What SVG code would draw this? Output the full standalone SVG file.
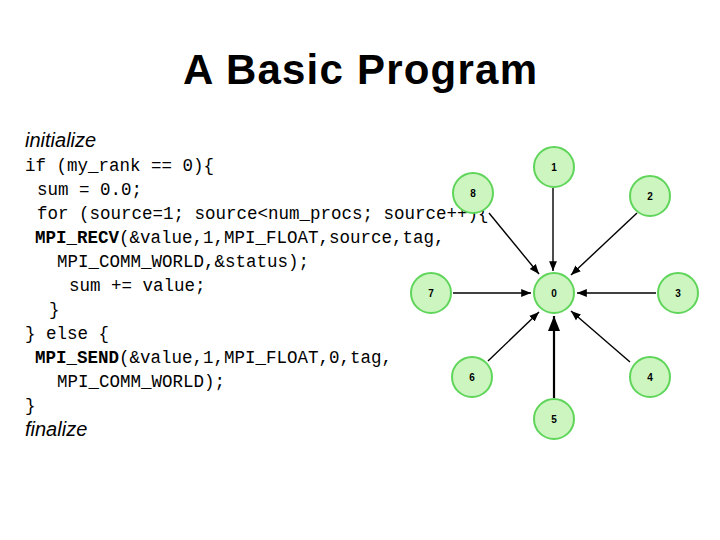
<svg xmlns="http://www.w3.org/2000/svg" width="720" height="540" viewBox="0 0 720 540">
<defs>
<marker id="ah" viewBox="0 0 10 10" refX="10" refY="5" markerWidth="7" markerHeight="7" orient="auto"><path d="M0,1 L10,5 L0,9 z" fill="#000"/></marker>
</defs>
<style>
.m{font-family:"Liberation Mono",monospace;font-size:17.5px;fill:#000}
.b{font-weight:bold}
.i{font-family:"Liberation Sans",Arial,sans-serif;font-style:italic;font-size:20px}
.n circle{fill:#ccf5c0;stroke:#5fd55a;stroke-width:2}
.n text{font-family:"Liberation Sans",Arial,sans-serif;font-size:10px;font-weight:bold;text-anchor:middle}
.c line{stroke:#000;stroke-width:1.4;marker-end:url(#ah)}
</style>
<rect width="720" height="540" fill="#fff"/>
<text x="360" y="84" text-anchor="middle" font-family="Liberation Sans,Arial,sans-serif" font-size="42" font-weight="bold" textLength="354">A Basic Program</text>
<text class="i" x="25" y="147">initialize</text>
<text class="m" x="25" y="171" xml:space="preserve">if (my_rank == 0){</text>
<text class="m" x="37" y="195" xml:space="preserve">sum = 0.0;</text>
<text class="m" x="37" y="219" xml:space="preserve">for (source=1; source&lt;num_procs; source++){</text>
<text class="m" x="35" y="243"><tspan class="b">MPI_RECV</tspan>(&amp;value,1,MPI_FLOAT,source,tag,</text>
<text class="m" x="57" y="267">MPI_COMM_WORLD,&amp;status);</text>
<text class="m" x="69" y="291" xml:space="preserve">sum += value;</text>
<text class="m" x="49" y="315">}</text>
<text class="m" x="25" y="339" xml:space="preserve">} else {</text>
<text class="m" x="35" y="363"><tspan class="b">MPI_SEND</tspan>(&amp;value,1,MPI_FLOAT,0,tag,</text>
<text class="m" x="57" y="387">MPI_COMM_WORLD);</text>
<text class="m" x="25" y="411">}</text>
<text class="i" x="25" y="436">finalize</text>
<g class="c">
<line x1="553" y1="188" x2="553" y2="271"/>
<line x1="489" y1="213" x2="539" y2="274"/>
<line x1="637" y1="213" x2="571" y2="275"/>
<line x1="453" y1="293" x2="531" y2="293"/>
<line x1="656" y1="293" x2="577" y2="293"/>
<line x1="488" y1="361" x2="539" y2="312"/>
<line x1="630" y1="362" x2="571" y2="311"/>
<line x1="554" y1="398" x2="554" y2="316" style="stroke-width:2.2"/>
</g>
<g class="n" id="n0"><circle cx="554" cy="293" r="20"/><text x="554" y="297">0</text></g>
<g class="n" id="n1"><circle cx="554" cy="167" r="20"/><text x="554" y="171">1</text></g>
<g class="n" id="n2"><circle cx="650" cy="196" r="20"/><text x="650" y="200">2</text></g>
<g class="n" id="n3"><circle cx="678" cy="293" r="20"/><text x="678" y="297">3</text></g>
<g class="n" id="n4"><circle cx="650" cy="377" r="20"/><text x="650" y="381">4</text></g>
<g class="n" id="n5"><circle cx="554" cy="419" r="20"/><text x="554" y="423">5</text></g>
<g class="n" id="n6"><circle cx="472" cy="377" r="20"/><text x="472" y="381">6</text></g>
<g class="n" id="n7"><circle cx="431" cy="293" r="20"/><text x="431" y="297">7</text></g>
<g class="n" id="n8"><circle cx="473" cy="193" r="20"/><text x="473" y="197">8</text></g>
</svg>
